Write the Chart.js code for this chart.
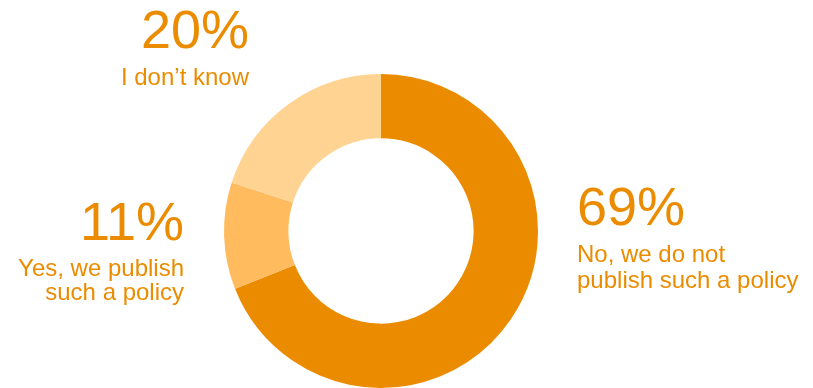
<!DOCTYPE html>
<html>
<head>
<meta charset="utf-8">
<script src="https://cdn.jsdelivr.net/npm/chart.js@4"></script>
<style>
  html, body { margin: 0; padding: 0; background: #fff; }
  #wrap { width: 813px; height: 388px; position: relative; }
</style>
</head>
<body>
<div id="wrap"><canvas id="policyChart" width="813" height="388"></canvas></div>
<script>
// survey answers, clockwise from 12 o'clock
const answers = ["No, we do not publish such a policy", "Yes, we publish such a policy", "I don\u2019t know"];
const shares = [69, 11, 20];
const labelLines = [
    ["No, we do not", "publish such a policy"],
    ["Yes, we publish", "such a policy"],
    ["I don\u2019t know"]
];
const sliceColors = ["#eb8c00", "#ffbb5e", "#ffd391"];
const textColor = "#eb8c00";

// where each text block sits relative to the ring centre
const placements = [
    { dx: 196, pctY: -6, lineY: 31, lineGap: 26, align: "left" },
    { dx: -197, pctY: 9, lineY: 45, lineGap: 24, align: "right" },
    { dx: -132, pctY: -183, lineY: -146, lineGap: 24, align: "right" }
];

const sliceLabels = {
    id: "sliceLabels",
    afterDraw(chart) {
        const arc = chart.getDatasetMeta(0).data[0];
        const c = chart.ctx;
        c.save();
        c.fillStyle = textColor;
        c.textBaseline = "alphabetic";
        shares.forEach((v, i) => {
            const p = placements[i];
            const x = arc.x + p.dx;
            c.textAlign = p.align;
            c.font = "54px 'Liberation Sans', Arial, sans-serif";
            c.fillText(v + "%", x, arc.y + p.pctY);
            c.font = "24px 'Liberation Sans', Arial, sans-serif";
            labelLines[i].forEach((line, j) => {
                c.fillText(line, x, arc.y + p.lineY + j * p.lineGap);
            });
        });
        c.restore();
    }
};

new Chart(document.getElementById("policyChart"), {
    type: "doughnut",
    data: {
        labels: answers,
        datasets: [{
            data: shares,
            backgroundColor: sliceColors,
            borderWidth: 0
        }]
    },
    options: {
        responsive: false,
        animation: false,
        cutout: "59%",
        layout: { padding: { top: 74, bottom: 0, left: 224, right: 275 } },
        plugins: {
            legend: { display: false },
            tooltip: { enabled: false }
        }
    },
    plugins: [sliceLabels]
});
</script>
</body>
</html>
